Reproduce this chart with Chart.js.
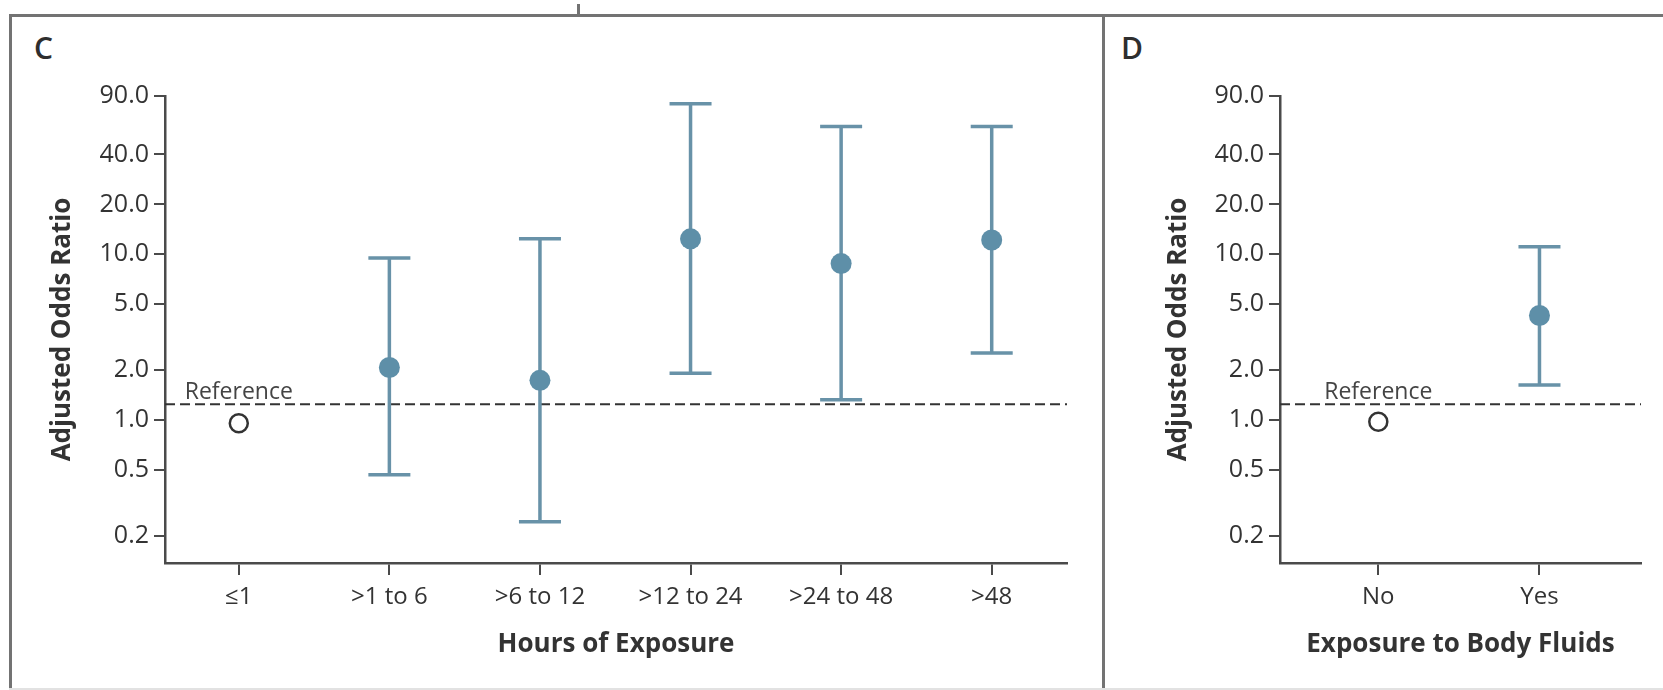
<!DOCTYPE html>
<html>
<head>
<meta charset="utf-8">
<script src="https://cdn.jsdelivr.net/npm/chart.js@4.4.1/dist/chart.umd.min.js"></script>
<style>
  html, body { margin: 0; padding: 0; background: #fff; }
  body { width: 1663px; height: 690px; position: relative; overflow: hidden; font-family: 'Open Sans', sans-serif; }
  .rule { position: absolute; background: #737373; }
  .letter { position: absolute; font-size: 30px; font-weight: 600; line-height: 30px; color: #2e2e2e; }
  .panel { position: absolute; top: 0; height: 690px; }
</style>
</head>
<body>
<div class="rule" style="left:9px; top:14px; width:1654px; height:3px;"></div>
<div class="rule" style="left:9px; top:14px; width:3px; height:676px;"></div>
<div class="rule" style="left:1102px; top:14px; width:3px; height:676px;"></div>
<div class="rule" style="left:577px; top:4px; width:3px; height:12px;"></div>
<div class="rule" style="left:9px; top:688px; width:1654px; height:2px; background:#e2e2e2;"></div>
<div class="letter" style="left:34px; top:33px;">C</div>
<div class="letter" style="left:1121px; top:33px;">D</div>
<div class="panel" style="left:0; width:1103px;"><canvas id="chartC"></canvas></div>
<div class="panel" style="left:1103px; width:560px;"><canvas id="chartD"></canvas></div>

<script>
// --- datos ---
const hourLabels = ['≤1', '>1 to 6', '>6 to 12', '>12 to 24', '>24 to 48', '>48'];
const hourOdds = [0.96, 2.08, 1.74, 12.4, 8.8, 12.2];
const hourLow = [null, 0.47, 0.245, 1.92, 1.33, 2.54];
const hourHigh = [null, 9.5, 12.4, 80.7, 59.0, 59.0];

const fluidLabels = ['No', 'Yes'];
const fluidOdds = [0.98, 4.28];
const fluidLow = [null, 1.63];
const fluidHigh = [null, 11.1];

const yTickValues = [0.2, 0.5, 1.0, 2.0, 5.0, 10.0, 20.0, 40.0, 90.0];
const referenceLineValue = 1.25;
const referenceText = 'Reference';

const BLUE = '#5e8fa8';
const BAR = '#6892a8';
const AXIS = '#4a4a4a';
const TEXT = '#333333';

Chart.defaults.font.family = "'Open Sans', sans-serif";

// barras de error + línea de referencia, usando las escalas del gráfico
const errorBarPlugin = {
    id: 'errorBars',
    beforeDatasetsDraw(chart, args, opts) {
        const { ctx, chartArea } = chart;
        const x = chart.scales.x;
        const y = chart.scales.y;
        const ry = y.getPixelForValue(opts.refValue);

        ctx.save();
        ctx.strokeStyle = '#333';
        ctx.lineWidth = 2;
        ctx.setLineDash([10, 5]);
        ctx.beginPath();
        ctx.moveTo(chartArea.left, ry);
        ctx.lineTo(chartArea.right, ry);
        ctx.stroke();
        ctx.setLineDash([]);

        ctx.fillStyle = '#444';
        ctx.font = "23px 'Open Sans', sans-serif";
        ctx.textAlign = 'center';
        ctx.textBaseline = 'alphabetic';
        ctx.fillText(referenceText, x.getPixelForValue(0), ry - 5);

        ctx.strokeStyle = BAR;
        ctx.lineWidth = 3.5;
        opts.low.forEach((lo, i) => {
            const hi = opts.high[i];
            if (lo == null || hi == null) return;
            const px = x.getPixelForValue(i);
            const top = y.getPixelForValue(hi);
            const bot = y.getPixelForValue(lo);
            ctx.beginPath();
            ctx.moveTo(px, top); ctx.lineTo(px, bot);
            ctx.moveTo(px - 21, top); ctx.lineTo(px + 21, top);
            ctx.moveTo(px - 21, bot); ctx.lineTo(px + 21, bot);
            ctx.stroke();
        });
        ctx.restore();
    }
};

function dibujarPanel(canvasId, cfg) {
    const estimates = [];
    const refPoint = [];
    cfg.odds.forEach((v, i) => {
        if (i === 0) refPoint.push({ x: i, y: v });
        else estimates.push({ x: i, y: v });
    });

    new Chart(document.getElementById(canvasId), {
        type: 'scatter',
        data: {
            datasets: [
                { data: estimates, pointRadius: 10.5, backgroundColor: BLUE, borderWidth: 0 },
                { data: refPoint, pointRadius: 9, backgroundColor: '#fff', borderColor: '#333', borderWidth: 2.5 }
            ]
        },
        options: {
            responsive: true,
            maintainAspectRatio: false,
            animation: false,
            layout: { padding: { left: 0, top: 96, right: cfg.padRight, bottom: 0 } },
            plugins: {
                legend: { display: false },
                tooltip: { enabled: false },
                errorBars: { low: cfg.low, high: cfg.high, refValue: referenceLineValue }
            },
            scales: {
                x: {
                    type: 'linear',
                    min: cfg.xMin,
                    max: cfg.xMax,
                    afterBuildTicks: (s) => { s.ticks = cfg.labels.map((_, i) => ({ value: i })); },
                    afterFit: (s) => { s.height = 127; },
                    ticks: {
                        callback: (v) => cfg.labels[v],
                        font: { size: 24 },
                        color: TEXT,
                        padding: 8,
                        autoSkip: false,
                        maxRotation: 0
                    },
                    grid: { drawOnChartArea: false, drawTicks: true, tickLength: 12, color: AXIS, lineWidth: 2 },
                    border: { color: AXIS, width: 2.5 },
                    title: {
                        display: true,
                        text: cfg.xTitle,
                        font: { size: 26, weight: 'bold' },
                        color: TEXT,
                        padding: { top: 0, bottom: 30 }
                    }
                },
                y: {
                    type: 'logarithmic',
                    min: 0.138,
                    max: 90,
                    afterBuildTicks: (s) => { s.ticks = yTickValues.map((v) => ({ value: v })); },
                    afterFit: (s) => { s.width = cfg.yWidth; },
                    ticks: {
                        callback: (v) => Number(v).toFixed(1),
                        font: { size: 25 },
                        color: TEXT,
                        padding: 5
                    },
                    grid: { drawOnChartArea: false, drawTicks: true, tickLength: 11, color: AXIS, lineWidth: 2 },
                    border: { color: AXIS, width: 2.5 },
                    title: {
                        display: true,
                        text: 'Adjusted Odds Ratio',
                        font: { size: 26, weight: 'bold' },
                        color: TEXT,
                        padding: { top: cfg.yTitlePad, bottom: 0 }
                    }
                }
            }
        },
        plugins: [errorBarPlugin]
    });
}

dibujarPanel('chartC', {
    labels: hourLabels, odds: hourOdds, low: hourLow, high: hourHigh,
    xTitle: 'Hours of Exposure',
    xMin: -0.49, xMax: 5.5,
    yWidth: 165, yTitlePad: 47, padRight: 36
});

dibujarPanel('chartD', {
    labels: fluidLabels, odds: fluidOdds, low: fluidLow, high: fluidHigh,
    xTitle: 'Exposure to Body Fluids',
    xMin: -0.61, xMax: 1.63,
    yWidth: 177, yTitlePad: 60, padRight: 22
});
</script>
</body>
</html>
